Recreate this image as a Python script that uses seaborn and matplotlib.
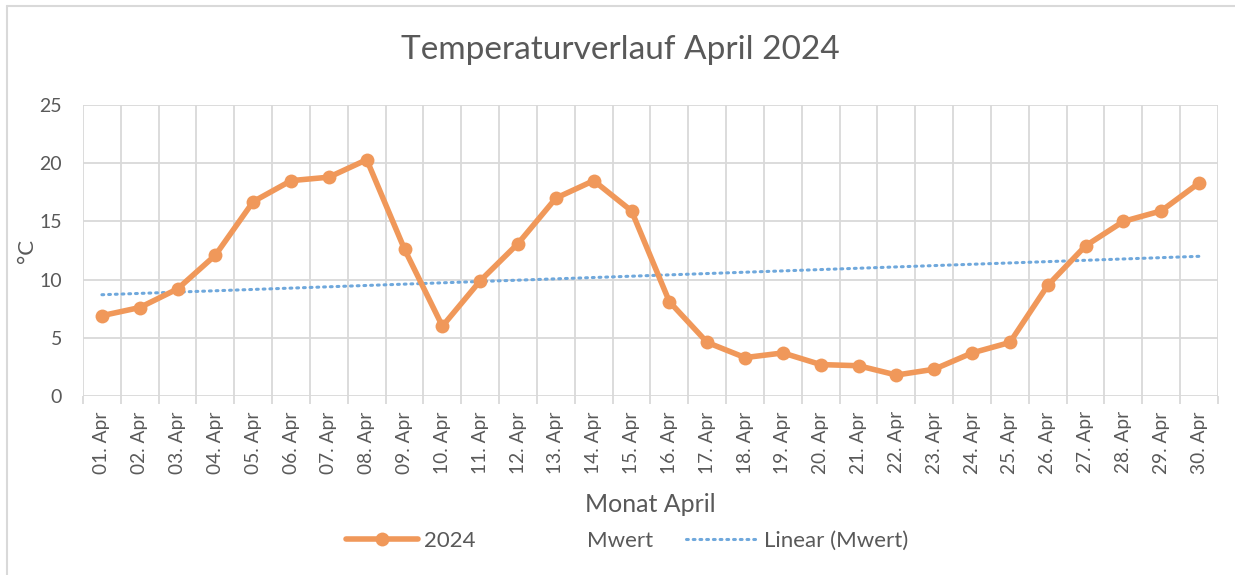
import matplotlib
matplotlib.use("Agg")
import matplotlib.pyplot as plt
import seaborn as sns
import pandas as pd
import numpy as np
from matplotlib.lines import Line2D
from matplotlib.ticker import FixedLocator

days = [f"{d:02d}. Apr" for d in range(1, 31)]
temp_2024 = [6.9, 7.6, 9.2, 12.1, 16.7, 18.5, 18.8, 20.3, 12.6, 6.0,
             9.9, 13.1, 17.0, 18.5, 15.9, 8.1, 4.6, 3.3, 3.7, 2.7,
             2.6, 1.8, 2.3, 3.7, 4.6, 9.5, 12.9, 15.0, 15.9, 18.3]
trend_days = ["01. Apr", "30. Apr"]
trend_values = [8.7, 12.0]

sns.set_theme(style="white")
plt.rcParams['font.family'] = ['Lato', 'DejaVu Sans']

text_color = "#595959"
orange = "#F0985A"
blue = "#6FA8DC"
grid_color = "#D9D9D9"

df = pd.DataFrame({"idx": np.arange(len(days)), "Tag": days, "Temp": temp_2024})
tdf = pd.DataFrame({"idx": [days.index(d) for d in trend_days], "Wert": trend_values})

W, H = 1235, 575
fig = plt.figure(figsize=(W / 100, H / 100), dpi=100)
ax = fig.add_axes([0.0672, 0.3113, 0.919, 0.5061])

sns.lineplot(data=tdf, x="idx", y="Wert", ax=ax, color=blue, linewidth=2.2,
             linestyle=(0, (0.6, 1.6)), dash_capstyle="round", zorder=2)
sns.lineplot(data=df, x="idx", y="Temp", ax=ax, color=orange, linewidth=4.0,
             marker="o", markersize=10, markeredgewidth=0, zorder=3)

ax.set_xlim(-0.5, len(days) - 0.5)
ax.set_ylim(0, 25)
ax.set_yticks([0, 5, 10, 15, 20, 25])
ax.set_xticks(np.arange(len(days)))
ax.set_xticklabels(days, rotation=90)
ax.xaxis.set_minor_locator(FixedLocator(np.arange(-0.5, len(days), 1.0)))
ax.grid(True, which="minor", axis="x", color=grid_color, linewidth=1.3)
ax.grid(True, which="major", axis="y", color=grid_color, linewidth=1.3)
ax.tick_params(axis="x", which="major", length=0, pad=11, labelsize=13.8, labelcolor=text_color)
ax.tick_params(axis="x", which="minor", length=6, width=1.3, color=grid_color, bottom=True)
ax.tick_params(axis="y", length=0, pad=15, labelsize=14, labelcolor=text_color)
for s in ax.spines.values():
    s.set_visible(False)
ax.set_axisbelow(True)

ax.set_xlabel("Monat April", fontsize=18, color=text_color, labelpad=14)
ax.set_ylabel("°C", fontsize=16, color=text_color, labelpad=2)
fig.text(620 / W, 1 - 50 / H, "Temperaturverlauf April 2024", fontsize=24,
         color=text_color, ha="center", va="center")

handles = [
    Line2D([], [], color=orange, linewidth=4.0, marker="o", markersize=10, markeredgewidth=0),
    Line2D([], [], color="none", linewidth=0),
    Line2D([], [], color=blue, linewidth=2.2, linestyle=(0, (0.6, 1.6)), dash_capstyle="round"),
]
labels = ["2024", "Mwert", "Linear (Mwert)"]
fig.legend(handles, labels, loc="center", bbox_to_anchor=(0.508, 0.059), ncol=3,
           frameon=False, fontsize=16, labelcolor=text_color, handlelength=3.2,
           columnspacing=1.5, handletextpad=0.3)

# chart border (top and left visible)
fig.add_artist(Line2D([7 / W, 1.0], [1 - 6 / H, 1 - 6 / H], transform=fig.transFigure,
                      color=grid_color, linewidth=1.5))
fig.add_artist(Line2D([7 / W, 7 / W], [0.0, 1 - 6 / H], transform=fig.transFigure,
                      color=grid_color, linewidth=1.5))

fig.savefig("out.png", dpi=100)
